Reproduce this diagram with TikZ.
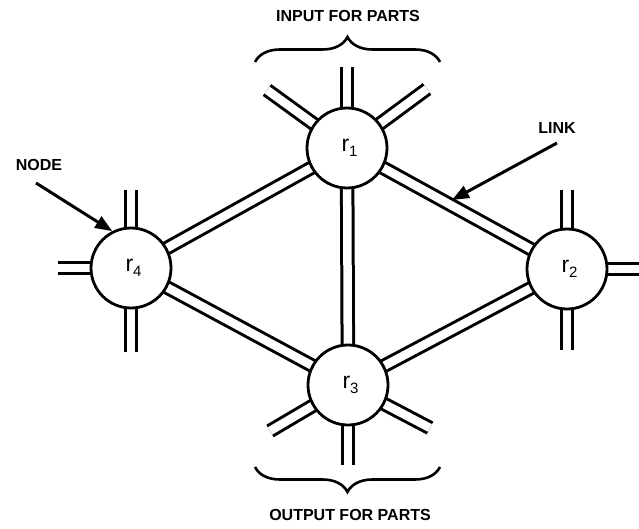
\documentclass[tikz,border=0pt]{standalone}
\usepackage{fontspec}
\setmainfont{Liberation Sans}
\usetikzlibrary{decorations.pathreplacing,arrows.meta}
\begin{document}
\begin{tikzpicture}[x=1pt,y=-1pt,
  rnode/.style={circle,draw,line width=2.8pt,fill=white,minimum size=80pt,inner sep=0pt},
  link/.style={line width=3pt,double,double distance=8.5pt},
  lbl/.style={font=\fontsize{16}{16}\selectfont\bfseries,inner sep=0pt},
  pointer/.style={line width=3pt,-{Triangle[length=17pt,width=13pt]}},
  bracestyle/.style={line width=2.6pt,decorate,decoration={brace,amplitude=25pt}}]
\useasboundingbox (0,0) rectangle (639,529);
% centres
\coordinate (c1) at (347,148);
\coordinate (c2) at (567,269);
\coordinate (c3) at (348,385);
\coordinate (c4) at (131,268);
% stub ends
\coordinate (s1u) at (347,67);
\coordinate (s1l) at (267,90);
\coordinate (s1r) at (427,89);
\coordinate (s3d) at (348,465);
\coordinate (s3l) at (270,431);
\coordinate (s3r) at (430,428);
\coordinate (s4u) at (131,190);
\coordinate (s4d) at (131,352);
\coordinate (s4l) at (58,268);
\coordinate (s2u) at (567,190);
\coordinate (s2d) at (567,350);
\coordinate (s2r) at (639,269);
% links
\draw[link] (c1) -- (c4);
\draw[link] (c1) -- (c2);
\draw[link] (c1) -- (c3);
\draw[link] (c3) -- (c4);
\draw[link] (c3) -- (c2);
% stubs
\foreach \c/\s in {c1/s1u,c1/s1l,c1/s1r,c3/s3d,c3/s3l,c3/s3r,c4/s4u,c4/s4d,c4/s4l,c2/s2u,c2/s2d,c2/s2r}
  \draw[link] (\c) -- (\s);
% nodes
\newcommand{\rlab}[1]{\hspace{5pt}{\fontsize{23}{23}\selectfont r}\raisebox{-5pt}{\fontsize{15}{15}\selectfont #1}}
\node[rnode] (r1) at (c1) {\raisebox{-7pt}{\rlab{1}}};
\node[rnode] (r2) at (c2) {\raisebox{-7pt}{\rlab{2}}};
\node[rnode] (r3) at (c3) {\raisebox{-7pt}{\rlab{3}}};
\node[rnode] (r4) at (c4) {\raisebox{-7pt}{\rlab{4}}};
% labels
\node[lbl] (inlbl) at (348,16) {INPUT FOR PARTS};
\node[lbl] (outlbl) at (350,515) {OUTPUT FOR PARTS};
\node[lbl] (nodelbl) at (39,165) {NODE};
\node[lbl] (linklbl) at (557,128) {LINK};
% pointers
\coordinate (nodetail) at (36,183);
\coordinate (linktail) at (557,143);
\coordinate (linktip) at (452,200);
\draw[pointer] (nodetail) -- (r4.117);
\draw[pointer] (linktail) -- (linktip);
% braces
\coordinate (b1a) at (255,62);
\coordinate (b1b) at (440,62);
\coordinate (b2a) at (440,467);
\coordinate (b2b) at (255,467);
\draw[bracestyle] (b1a) -- (b1b);
\draw[bracestyle] (b2a) -- (b2b);
\end{tikzpicture}
\end{document}
